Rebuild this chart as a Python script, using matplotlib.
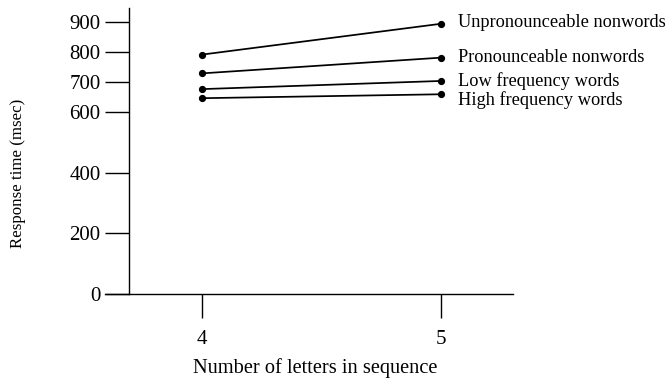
import matplotlib.pyplot as plt

plt.rcParams['font.family'] = ['Liberation Serif', 'DejaVu Serif']

# data
letters = [4, 5]
series_names = ['Unpronounceable nonwords', 'Pronounceable nonwords',
                'Low frequency words', 'High frequency words']
unpronounceable = [791, 893]
pronounceable = [729, 781]
low_freq = [677, 704]
high_freq = [647, 660]
y_ticks = [0, 200, 400, 600, 700, 800, 900]

# vertical nudges (points) so the labels do not collide
label_nudge = [1, 0, 0, -4]

fig = plt.figure(figsize=(6.7, 3.81), dpi=100)
ax = fig.add_axes([0.1567, 0.2283, 0.609, 0.7507])

for vals, name, dy in zip([unpronounceable, pronounceable, low_freq, high_freq],
                          series_names, label_nudge):
    ax.plot(letters, vals, color='black', lw=1.25, marker='o', ms=4.2,
            solid_capstyle='butt')
    ax.annotate(name, xy=(letters[-1], vals[-1]), xytext=(12, dy),
                textcoords='offset points', va='center', ha='left',
                fontsize=13.2, annotation_clip=False)

ax.set_xlim(3.595, 5.30)
ax.set_ylim(0, 945)
ax.set_xticks(letters)
ax.set_yticks(y_ticks)
ax.tick_params(axis='both', direction='out', length=17, width=1,
               labelsize=15, colors='black', pad=3.5)
ax.tick_params(axis='x', pad=9)

ax.spines['top'].set_visible(False)
ax.spines['right'].set_visible(False)
ax.spines['left'].set_position(('data', 3.695))
for s in ax.spines.values():
    s.set_linewidth(1)

ax.set_xlabel('Number of letters in sequence', fontsize=14.7, va='center')
ax.xaxis.set_label_coords(0.515, -0.259)
ax.set_ylabel('Response time (msec)', fontsize=12.2, va='center')
ax.yaxis.set_label_coords(-0.213, 0.423)

fig.savefig('out.png', dpi=100)
